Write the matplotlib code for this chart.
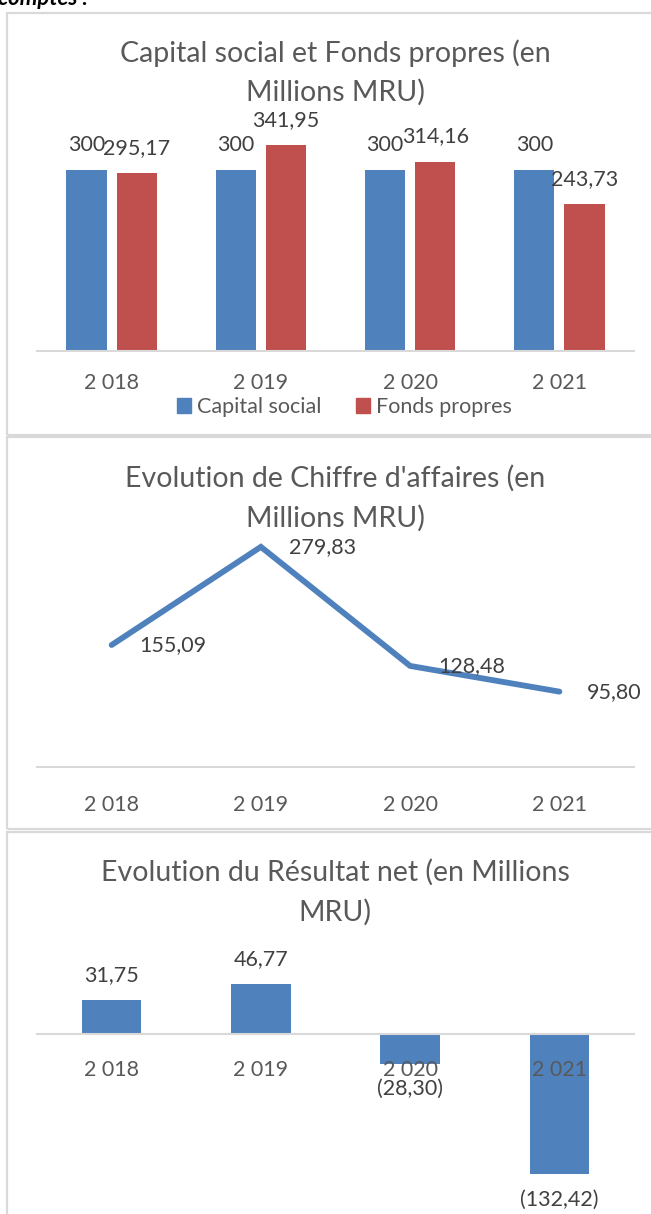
import matplotlib.pyplot as plt
from matplotlib.patches import Rectangle, Patch

plt.rcParams['font.family'] = ['Lato', 'DejaVu Sans']

# data
years = ['2 018', '2 019', '2 020', '2 021']
capital = [300, 300, 300, 300]
fonds = [295.17, 341.95, 314.16, 243.73]
ca = [155.09, 279.83, 128.48, 95.80]
resultat = [31.75, 46.77, -28.30, -132.42]

BLUE = '#4f81bd'
RED = '#c0504d'
GREY = '#595959'
DARK = '#404040'
LINE = '#d9d9d9'
FS = 15.5     # ticks, labels, legend
TFS = 20.5    # titles

W, H = 651, 1214
fig = plt.figure(figsize=(W / 100, H / 100), dpi=100)


def px_axes(x0, y_top, x1, y_bot):
    return fig.add_axes([x0 / W, 1 - y_bot / H, (x1 - x0) / W, (y_bot - y_top) / H])


def fmt(v):
    s = f'{abs(v):.2f}'.replace('.', ',')
    return f'({s})' if v < 0 else s


def style(ax, pad):
    for s in ['top', 'right', 'left']:
        ax.spines[s].set_visible(False)
    ax.spines['bottom'].set_color(LINE)
    ax.spines['bottom'].set_linewidth(1.5)
    ax.set_yticks([])
    ax.set_xticks(range(4))
    ax.set_xticklabels(years)
    ax.tick_params(axis='x', length=0, pad=pad, labelsize=FS, labelcolor=GREY)
    ax.set_xlim(-0.5, 3.5)
    ax.patch.set_visible(False)


def title(lines, y1, y2):
    fig.text(335 / W, 1 - y1 / H, lines[0], fontsize=TFS, color=GREY, ha='center', va='center')
    fig.text(335 / W, 1 - y2 / H, lines[1], fontsize=TFS, color=GREY, ha='center', va='center')


# panel frames
for top, bot in [(13, 435), (437, 829), (832, 1230)]:
    fig.patches.append(Rectangle((7 / W, 1 - bot / H), 700 / W, (bot - top) / H,
                                 transform=fig.transFigure, fill=False,
                                 edgecolor=LINE, lw=1.6))

fig.text(-2 / W, 1 - 5 / H, 'comptes :', fontsize=16, fontweight='bold',
         fontstyle='italic', va='baseline', ha='left')

# chart 1
ax1 = px_axes(37, 110, 634, 351)
style(ax1, 16)
ax1.set_ylim(0, 400)
x = range(4)
ax1.bar([i - 0.168 for i in x], capital, width=0.27, color=BLUE)
ax1.bar([i + 0.168 for i in x], fonds, width=0.27, color=RED)
for i in x:
    ax1.annotate('300', (i - 0.168, capital[i]), xytext=(0, 11), textcoords='offset points',
                 ha='center', va='bottom', fontsize=FS, color=DARK)
    ax1.annotate(fmt(fonds[i]), (i + 0.168, fonds[i]), xytext=(0, 11), textcoords='offset points',
                 ha='center', va='bottom', fontsize=FS, color=DARK)
title(['Capital social et Fonds propres (en', 'Millions MRU)'], 53, 92)
ax1.legend(handles=[Patch(color=BLUE, label='Capital social'), Patch(color=RED, label='Fonds propres')],
           loc='center', bbox_to_anchor=(0.515, -0.232), ncol=2, frameon=False, fontsize=FS,
           labelcolor=GREY, handlelength=0.65, handleheight=0.65, handletextpad=0.3,
           columnspacing=1.6)

# chart 2
ax2 = px_axes(37, 531, 634, 767)
style(ax2, 20)
ax2.set_ylim(0, 300)
ax2.plot(range(4), ca, color=BLUE, lw=4.2, solid_capstyle='round', solid_joinstyle='miter')
for i, v in enumerate(ca):
    ax2.annotate(fmt(v), (i, v), xytext=(20, 0), textcoords='offset points',
                 ha='left', va='center', fontsize=FS, color=DARK)
title(["Evolution de Chiffre d'affaires (en", 'Millions MRU)'], 478, 518)

# chart 3
ax3 = px_axes(37, 1034 - 60 * 1.06, 634, 1034 + 160 * 1.06)
ax3.set_ylim(-160, 60)
ax3.spines['bottom'].set_position(('data', 0))
style(ax3, 19)
ax3.bar(range(4), resultat, width=0.4, color=BLUE, zorder=1)
for i, v in enumerate(resultat):
    off = 11 if v > 0 else -11
    ax3.annotate(fmt(v), (i, v), xytext=(0, off), textcoords='offset points',
                 ha='center', va='bottom' if v > 0 else 'top', fontsize=FS, color=DARK,
                 annotation_clip=False)
for lab in ax3.get_xticklabels():
    lab.set_zorder(5)
title(['Evolution du Résultat net (en Millions', 'MRU)'], 872, 912)

fig.savefig('out.png', dpi=100)
